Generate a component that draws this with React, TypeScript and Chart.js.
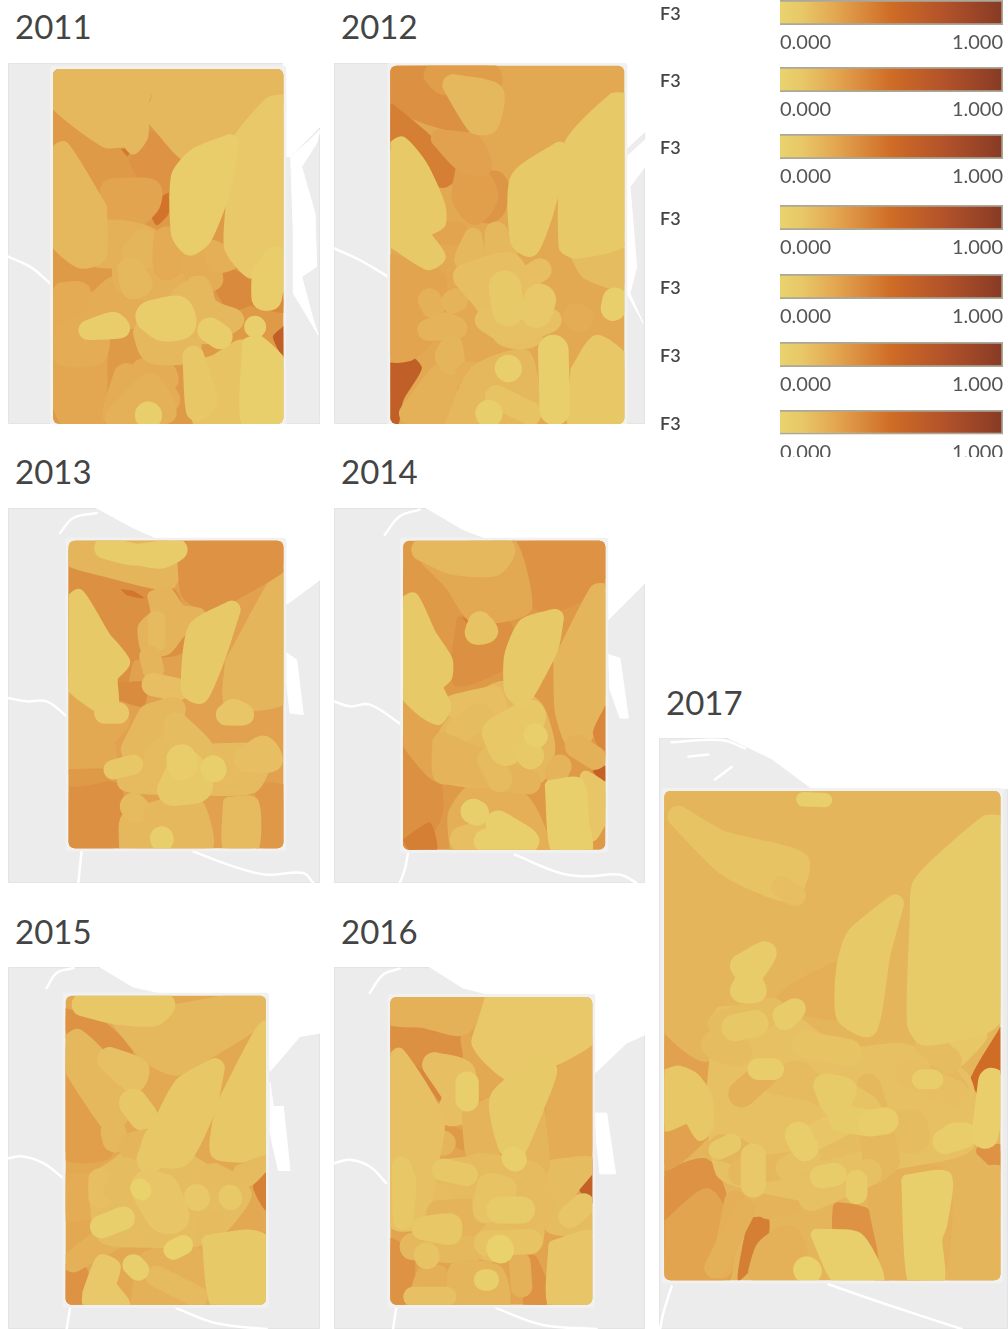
import React, { useEffect, useRef } from "react";
import { Chart, registerables } from "chart.js";

const years = ["2011", "2012", "2013", "2014", "2015", "2016", "2017"];
const legendTitle = "F3";
const legendTicks = [0, 1];
const legendTops = [0, 67, 134, 204.5, 273.5, 342, 409.5];
const legendValue = [1];
const rampStops = [0, 0.1, 0.25, 0.5, 0.75, 1];
const rampColors = ["#E9D36D", "#E8C767", "#E3A651", "#CF6C26", "#B0512A", "#873A25"];

// Map coordinates: [xMin, yMin, xMax, yMax]
const extents = [
  [24, 189, 960, 1272], [13, 189, 945, 1272], [24, 175, 960, 1300], [13, 175, 945, 1300],
  [24, 202, 960, 1287], [13, 202, 945, 1287], [12, 140, 1059, 1568],
];
const boxes = [
  [159, 207, 850, 1272], [182, 197, 883, 1272], [206, 273, 850, 1196], [220, 273, 826, 1200],
  [197, 288, 798, 1214], [182, 292, 787, 1214], [28, 268, 1036, 1450],
];
const baseValues = [0.3, 0.24, 0.27, 0.3, 0.24, 0.26, 0.18];

const water2011 = [[850, 189, 960, 189, 960, 380, 870, 470, 850, 470], [872, 470, 930, 420, 960, 390, 950, 430, 905, 500, 945, 640, 950, 800, 905, 830, 940, 960, 955, 1005, 880, 880, 880, 700]];
const water2012 = [[885, 189, 945, 189, 945, 395, 885, 450], [890, 470, 945, 420, 945, 500, 900, 560, 920, 800, 900, 880, 940, 970, 890, 880]];
const water2013 = [[290, 175, 960, 175, 960, 390, 880, 450, 850, 470, 850, 270, 480, 270, 400, 235], [860, 610, 890, 630, 910, 795, 870, 790, 860, 700]];
const water2014 = [[290, 175, 945, 175, 945, 400, 835, 510, 826, 270, 480, 270, 400, 240], [835, 615, 870, 625, 895, 805, 870, 805, 840, 720]];
const water2015 = [[300, 202, 960, 202, 960, 400, 900, 410, 810, 515, 798, 280, 480, 280, 400, 262], [810, 550, 820, 620, 850, 620, 870, 812, 835, 812, 810, 700]];
const water2016 = [[300, 202, 945, 202, 945, 405, 890, 430, 790, 525, 790, 285, 480, 285, 400, 265], [795, 640, 830, 640, 857, 822, 810, 822, 800, 730]];
const water2017 = [[220, 140, 1059, 140, 1059, 262, 470, 262, 350, 190]];
const waters = [water2011, water2012, water2013, water2014, water2015, water2016, water2017];

const roads2011 = [[24, 770, 90, 800, 150, 850]];
const roads2012 = [[13, 745, 90, 780, 175, 830]];
const roads2013 = [[24, 745, 80, 755, 140, 755, 200, 800], [180, 250, 220, 205, 290, 190], [245, 1200, 235, 1300], [580, 1205, 700, 1250, 800, 1275, 910, 1270, 940, 1300]];
const roads2014 = [[13, 755, 60, 770, 120, 765, 215, 825], [165, 255, 210, 200, 270, 180], [235, 1210, 225, 1260, 210, 1300], [555, 1215, 690, 1270, 770, 1280, 870, 1275, 920, 1300]];
const roads2015 = [[24, 775, 70, 770, 130, 790, 190, 835], [140, 265, 170, 220, 220, 205], [210, 1225, 200, 1287], [530, 1225, 650, 1270, 800, 1287]];
const roads2016 = [[13, 790, 60, 780, 120, 800, 170, 850], [120, 280, 160, 225, 210, 207], [200, 1220, 190, 1287], [500, 1225, 640, 1275, 800, 1287]];
const roads2017 = [[50, 150, 200, 145, 270, 165], [100, 185, 160, 180], [180, 240, 230, 210], [50, 1465, 25, 1530, 15, 1568], [520, 1460, 700, 1510, 920, 1568]];
const roads = [roads2011, roads2012, roads2013, roads2014, roads2015, roads2016, roads2017];

// Each entry: [value, reach, x, y, x, y, ...]
const zones2011 = [
  [.37, 2, 630, 790, 760, 830, 850, 900, 850, 930, 760, 920, 680, 930, 640, 860],
  [.33, 2, 385, 470, 455, 390, 555, 490, 525, 530, 510, 590, 450, 620, 410, 540],
  [.47, 1, 505, 580, 505, 640, 470, 675, 452, 635, 470, 600],
  [.62, 1, 850, 980, 820, 1010, 850, 1070],
  [.45, 1, 365, 448, 387, 448, 383, 468],
  [.17, 2, 159, 207, 470, 207, 450, 290, 445, 420, 410, 465, 390, 445, 310, 447, 159, 295],
  [.17, 2, 460, 207, 850, 207, 850, 280, 700, 410, 560, 490, 450, 380, 430, 350, 450, 290],
  [.26, 30, 340, 575, 445, 575, 440, 610, 395, 650, 340, 640],
  [.25, 2, 159, 880, 300, 880, 320, 1000, 300, 1272, 200, 1272, 159, 1180],
  [.23, 25, 190, 880, 240, 880, 240, 1000, 190, 1060],
  [.22, 25, 300, 900, 350, 860, 440, 880, 420, 950, 300, 940],
  [.22, 24, 200, 1000, 290, 960, 290, 1060, 190, 1065],
  [.22, 26, 430, 1110, 480, 1100, 500, 1140, 420, 1140],
  [.22, 30, 380, 1130, 500, 1200, 350, 1250],
  [.2, 22, 345, 1250, 450, 1150, 500, 1240],
  [.2, 30, 300, 700, 360, 700, 440, 720, 460, 790, 510, 830, 520, 870, 430, 860, 380, 840, 370, 770, 290, 760],
  [.18, 26, 430, 720, 440, 770, 400, 760],
  [.17, 28, 390, 810, 420, 850, 400, 860],
  [.23, 30, 500, 720, 540, 760, 500, 800],
  [.22, 22, 570, 790, 620, 780, 640, 840, 600, 850],
  [.21, 22, 640, 750, 690, 780, 650, 790],
  [.17, 24, 590, 860, 600, 860, 620, 920, 650, 940, 700, 960, 610, 1000, 540, 900],
  [.17, 30, 440, 1000, 560, 1000, 560, 1050, 460, 1050],
  [.12, 2, 560, 1090, 640, 1060, 740, 1020, 740, 1272, 590, 1272],
  [.1, 24, 580, 1070, 620, 1200, 590, 1230],
  [.17, 2, 159, 440, 185, 420, 310, 590, 325, 620, 310, 790, 240, 810, 159, 730],
  [.09, 2, 850, 280, 815, 285, 700, 410, 690, 500, 680, 760, 750, 840, 780, 810, 850, 750],
  [.05, 20, 690, 430, 590, 470, 540, 530, 540, 700, 570, 740, 610, 710, 665, 570],
  [.05, 26, 790, 820, 825, 775, 825, 780, 810, 895, 790, 895],
  [.05, 36, 455, 950, 530, 935, 540, 970, 490, 975],
  [.05, 22, 265, 990, 360, 985, 340, 965],
  [.05, 28, 630, 990, 660, 1010],
  [.03, 24, 765, 980, 766, 981],
  [.03, 2, 735, 1010, 770, 1000, 850, 1090, 850, 1272, 735, 1272],
  [.03, 30, 445, 1245, 446, 1246],
];
const zones2012 = [
  [.34, 2, 182, 197, 500, 197, 490, 250, 420, 400, 182, 310],
  [.29, 25, 315, 225, 480, 225, 480, 255, 340, 250],
  [.42, 2, 182, 310, 300, 400, 390, 530, 350, 565, 260, 500, 182, 420],
  [.32, 2, 450, 510, 510, 510, 540, 550, 520, 650, 480, 675, 400, 650],
  [.28, 26, 410, 520, 450, 540, 470, 590, 435, 640, 400, 590],
  [.27, 20, 330, 415, 430, 430, 460, 500, 400, 490],
  [.17, 24, 370, 255, 490, 280, 475, 370, 440, 370],
  [.62, 1, 182, 1090, 240, 1065, 275, 1105, 220, 1200, 205, 1272, 182, 1272],
  [.26, 2, 182, 760, 340, 810, 335, 1000, 240, 1085, 182, 1085],
  [.2, 26, 300, 900, 310, 920],
  [.19, 26, 370, 905, 380, 900],
  [.26, 26, 340, 700, 380, 700],
  [.2, 24, 240, 1240, 340, 1120, 350, 1250, 300, 1260],
  [.19, 24, 295, 990, 350, 970, 380, 985],
  [.18, 26, 365, 1040, 370, 1090, 350, 1070],
  [.21, 34, 420, 1130, 470, 1140],
  [.17, 20, 430, 710, 440, 800, 400, 780],
  [.17, 26, 500, 700, 500, 770, 530, 770],
  [.17, 2, 345, 1272, 420, 1100, 600, 1050, 620, 1272],
  [.14, 30, 410, 830, 470, 900, 530, 1000, 600, 1000, 540, 800],
  [.14, 26, 600, 830, 630, 810],
  [.13, 26, 470, 960, 540, 1000, 660, 960],
  [.12, 26, 500, 1190, 600, 1240],
  [.1, 2, 720, 1100, 800, 1000, 883, 1070, 883, 1272, 720, 1272],
  [.22, 30, 740, 950, 750, 955],
  [.08, 36, 525, 860, 535, 930],
  [.09, 36, 620, 935, 630, 900],
  [.15, 2, 720, 760, 883, 730, 883, 870, 750, 830],
  [.08, 2, 182, 430, 210, 405, 280, 480, 350, 610, 350, 680, 290, 720, 340, 790, 300, 815, 200, 760, 182, 730],
  [.08, 22, 690, 455, 570, 540, 570, 720, 600, 740, 640, 640],
  [.08, 2, 883, 275, 855, 275, 705, 420, 695, 760, 735, 780, 883, 735],
  [.03, 34, 670, 1050, 675, 1230],
  [.03, 30, 535, 1105, 536, 1106],
  [.03, 30, 477, 1240, 478, 1241],
  [.03, 28, 850, 925, 855, 900],
];
const zones2013 = [
  [.34, 2, 206, 300, 260, 370, 530, 420, 560, 600, 400, 640, 350, 760, 206, 700],
  [.36, 1, 350, 700, 440, 700, 430, 770, 340, 740],
  [.18, 2, 206, 273, 530, 273, 530, 410, 280, 370, 206, 330],
  [.46, 1, 365, 420, 400, 425, 430, 445, 380, 435],
  [.34, 2, 206, 1010, 360, 1000, 355, 1196, 206, 1196],
  [.31, 2, 850, 1000, 780, 1000, 780, 1196, 850, 1196],
  [.18, 2, 670, 640, 850, 350, 850, 760, 680, 780],
  [.33, 2, 530, 273, 850, 273, 850, 340, 700, 460, 620, 490, 540, 440],
  [.24, 2, 206, 700, 390, 800, 350, 880, 340, 960, 206, 970],
  [.3, 1, 206, 960, 330, 960, 330, 990, 206, 1010],
  [.19, 2, 450, 420, 500, 405, 560, 470, 620, 490, 550, 570, 500, 620, 430, 620, 410, 540, 450, 480],
  [.16, 20, 470, 510, 470, 580],
  [.18, 24, 450, 620, 460, 660],
  [.17, 2, 355, 1196, 360, 1100, 600, 1040, 640, 1196],
  [.16, 2, 675, 1040, 770, 1040, 770, 1196, 675, 1196],
  [.16, 2, 380, 860, 470, 850, 600, 880, 820, 900, 780, 1020, 550, 1040, 350, 1010],
  [.14, 26, 460, 705, 530, 720],
  [.17, 28, 450, 800, 520, 780, 430, 850, 400, 900],
  [.14, 28, 740, 930, 790, 895, 810, 930],
  [.16, 30, 400, 1070, 410, 1080],
  [.17, 30, 470, 1100, 580, 1100],
  [.15, 30, 530, 830, 550, 900, 600, 900],
  [.1, 22, 340, 960, 400, 945],
  [.08, 36, 520, 1020, 560, 950, 590, 1010],
  [.05, 34, 545, 930, 546, 945],
  [.03, 28, 640, 955, 642, 960],
  [.06, 24, 315, 295, 400, 315, 530, 300, 480, 325],
  [.08, 2, 206, 440, 230, 415, 320, 540, 395, 640, 350, 700, 345, 790, 290, 790, 206, 710],
  [.09, 24, 315, 790, 355, 790],
  [.08, 20, 695, 480, 590, 540, 570, 720, 600, 735, 650, 620],
  [.11, 24, 680, 795, 730, 795, 700, 780],
  [.03, 26, 485, 1165, 486, 1170],
];
const zones2014 = [
  [.33, 2, 545, 273, 826, 273, 826, 390, 680, 490, 610, 480],
  [.3, 2, 220, 360, 300, 380, 430, 540, 370, 740, 220, 740],
  [.34, 2, 380, 500, 420, 500, 540, 510, 560, 560, 530, 660, 370, 710],
  [.42, 1, 400, 505, 420, 505, 420, 530],
  [.24, 2, 270, 320, 545, 273, 610, 480, 520, 520, 420, 520, 340, 400],
  [.17, 26, 280, 300, 520, 300, 490, 345, 370, 340],
  [.34, 2, 220, 850, 300, 870, 340, 1100, 250, 1200, 220, 1200],
  [.42, 1, 220, 1170, 300, 1120, 320, 1200, 240, 1200],
  [.26, 2, 220, 730, 340, 800, 330, 1000, 220, 860],
  [.12, 26, 450, 520, 440, 550, 470, 545],
  [.18, 2, 670, 620, 800, 400, 826, 400, 826, 760, 760, 900, 720, 900, 680, 800],
  [.38, 1, 826, 770, 790, 850, 826, 920],
  [.6, 1, 826, 950, 790, 965, 826, 995],
  [.2, 26, 740, 890, 795, 925],
  [.21, 2, 360, 1200, 350, 1090, 430, 990, 600, 1040, 660, 1200],
  [.17, 2, 380, 760, 520, 690, 640, 760, 680, 900, 640, 1000, 340, 1000, 310, 880],
  [.14, 24, 490, 740, 500, 790, 370, 770],
  [.15, 30, 390, 840, 450, 800],
  [.19, 24, 340, 880, 340, 970, 380, 970, 600, 1000],
  [.16, 28, 480, 930, 510, 990],
  [.19, 26, 690, 950, 680, 970],
  [.14, 30, 400, 1170, 520, 1130],
  [.19, 22, 590, 995, 600, 990],
  [.1, 36, 505, 850, 600, 800, 530, 900],
  [.08, 30, 600, 915, 602, 918],
  [.08, 2, 220, 440, 245, 425, 300, 530, 370, 620, 370, 690, 330, 730, 355, 790, 330, 830, 280, 810, 220, 735],
  [.08, 20, 675, 505, 590, 530, 550, 620, 550, 720, 575, 745, 610, 690, 660, 590],
  [.11, 2, 760, 960, 826, 1000, 826, 1100, 780, 1180],
  [.03, 2, 650, 990, 750, 980, 780, 1130, 780, 1200, 670, 1200],
  [.03, 28, 430, 1085, 440, 1090],
  [.03, 28, 505, 1120, 540, 1160, 470, 1175, 590, 1175],
  [.03, 25, 615, 855, 620, 860],
];
const zones2015 = [
  [.33, 2, 197, 330, 300, 350, 400, 470, 197, 400],
  [.28, 2, 197, 440, 320, 640, 330, 780, 197, 780],
  [.17, 2, 330, 360, 798, 288, 798, 340, 650, 470, 520, 530, 420, 480],
  [.33, 2, 197, 1090, 260, 1100, 240, 1214, 197, 1214],
  [.46, 1, 510, 625, 505, 650, 480, 700, 455, 675],
  [.41, 1, 798, 790, 760, 860, 798, 930],
  [.32, 2, 600, 1050, 798, 1000, 798, 1150, 640, 1214],
  [.23, 26, 520, 1080, 620, 1060, 600, 1190, 440, 1140],
  [.2, 2, 390, 1214, 420, 1060, 600, 1040, 640, 1214],
  [.16, 24, 470, 1130, 590, 1190],
  [.22, 2, 197, 820, 320, 830, 300, 950, 197, 960],
  [.2, 24, 220, 1085, 290, 1030, 370, 1000],
  [.18, 26, 350, 1010, 460, 1000],
  [.17, 2, 197, 410, 225, 385, 360, 500, 400, 640, 350, 700, 320, 690, 197, 470],
  [.13, 28, 330, 480, 410, 510, 400, 540],
  [.1, 32, 400, 610, 430, 650],
  [.17, 28, 340, 695, 345, 720],
  [.15, 2, 330, 780, 440, 700, 640, 800, 760, 880, 680, 1000, 600, 1040, 300, 1030, 270, 960, 270, 830],
  [.18, 32, 400, 740, 440, 730],
  [.14, 26, 300, 840, 300, 890],
  [.15, 28, 380, 810, 350, 870],
  [.1, 30, 450, 780, 470, 720],
  [.1, 26, 250, 315, 490, 315, 460, 345, 350, 340],
  [.1, 22, 645, 505, 550, 560, 470, 720, 470, 770, 545, 770, 620, 620],
  [.1, 2, 640, 620, 798, 360, 798, 770, 640, 780],
  [.16, 2, 700, 800, 798, 770, 760, 860, 690, 860],
  [.16, 30, 640, 830, 700, 860],
  [.11, 36, 490, 870, 440, 860, 490, 950, 520, 950],
  [.09, 28, 590, 890, 592, 896],
  [.08, 26, 690, 890, 692, 895],
  [.16, 28, 620, 980, 640, 970],
  [.02, 22, 420, 865, 425, 872],
  [.03, 26, 305, 980, 370, 955],
  [.02, 22, 520, 1050, 550, 1035],
  [.03, 24, 400, 1095, 415, 1110],
  [.09, 2, 245, 1190, 300, 1060, 355, 1080, 355, 1160, 390, 1214, 250, 1214],
  [.08, 2, 605, 1010, 750, 985, 798, 1010, 798, 1214, 640, 1214],
];
const zones2016 = [
  [.34, 2, 182, 360, 400, 400, 400, 480, 330, 610, 270, 530, 182, 440],
  [.38, 1, 230, 480, 300, 530, 340, 610, 320, 590],
  [.2, 2, 182, 292, 480, 292, 420, 400, 260, 380, 182, 360],
  [.24, 2, 400, 400, 440, 480, 530, 545, 500, 600, 430, 590],
  [.22, 2, 660, 520, 787, 410, 787, 780, 660, 780],
  [.6, 1, 787, 780, 745, 860, 787, 910],
  [.33, 2, 182, 1010, 240, 1040, 260, 1130, 220, 1214, 182, 1214],
  [.33, 2, 600, 1060, 660, 1150, 660, 1214, 585, 1214],
  [.3, 1, 340, 670, 410, 700, 400, 750, 340, 710],
  [.09, 2, 470, 292, 787, 292, 787, 410, 660, 510, 530, 545, 450, 480, 420, 430, 440, 360],
  [.14, 28, 315, 495, 400, 520, 360, 640, 400, 630],
  [.19, 2, 400, 630, 500, 590, 500, 790, 420, 790],
  [.18, 28, 290, 710, 340, 730],
  [.13, 2, 182, 470, 205, 440, 340, 640, 330, 800, 300, 980, 210, 1000, 182, 980],
  [.15, 2, 640, 780, 787, 770, 740, 870, 787, 1000, 650, 1000],
  [.15, 2, 330, 780, 500, 760, 640, 800, 640, 1040, 600, 1060, 480, 1090, 300, 1000],
  [.18, 26, 610, 640, 625, 800, 590, 750],
  [.16, 30, 360, 830, 420, 870, 460, 800],
  [.19, 30, 330, 940, 400, 980, 440, 940],
  [.17, 30, 250, 1040, 380, 1050, 420, 1050],
  [.16, 34, 470, 900, 620, 950, 600, 830, 500, 830],
  [.21, 2, 230, 1214, 270, 1100, 350, 1100, 350, 1214],
  [.18, 2, 350, 1214, 360, 1090, 520, 1100, 540, 1214],
  [.2, 24, 570, 1090, 575, 1160],
  [.12, 28, 290, 1065, 292, 1070],
  [.13, 22, 250, 1190, 350, 1190],
  [.11, 2, 660, 1020, 787, 990, 787, 1214, 660, 1214],
  [.1, 25, 340, 810, 410, 825],
  [.12, 30, 480, 860, 470, 930, 520, 870],
  [.1, 26, 280, 985, 360, 975, 360, 1000],
  [.07, 30, 510, 930, 575, 930],
  [.12, 28, 600, 1025, 470, 1030],
  [.1, 22, 215, 800, 230, 850, 220, 960],
  [.08, 30, 530, 690, 520, 600, 640, 510, 610, 600, 550, 740],
  [.03, 26, 412, 550, 412, 600],
  [.03, 26, 550, 775, 556, 780],
  [.02, 30, 510, 1045, 512, 1050],
  [.03, 24, 465, 1140, 475, 1140],
  [.11, 26, 720, 950, 760, 915],
];
const zones2017 = [
  [.33, 2, 28, 1180, 160, 1150, 220, 1260, 60, 1400, 28, 1400],
  [.27, 2, 28, 840, 170, 920, 170, 1100, 28, 1190],
  [.26, 2, 28, 1320, 160, 1220, 230, 1300, 220, 1450, 28, 1450],
  [.42, 1, 280, 1300, 340, 1300, 330, 1380, 250, 1450],
  [.33, 2, 535, 1260, 640, 1270, 690, 1410, 700, 1450, 530, 1330],
  [.5, 1, 1036, 840, 1036, 950, 990, 1010, 945, 970],
  [.33, 2, 960, 1130, 1036, 1120, 1036, 1195],
  [.18, 2, 28, 268, 1036, 268, 1036, 320, 770, 490, 680, 540, 570, 640, 430, 720, 360, 680, 360, 600, 400, 560, 300, 490, 170, 430, 28, 840],
  [.18, 2, 28, 320, 28, 840, 150, 930, 230, 770, 360, 780, 360, 600, 280, 490, 140, 400],
  [.18, 2, 860, 1200, 1036, 1170, 1036, 1450, 860, 1450],
  [.21, 2, 560, 680, 570, 820, 360, 780, 430, 720],
  [.27, 2, 640, 1000, 560, 880, 420, 840, 300, 1070, 260, 1120, 640, 1040],
  [.31, 2, 260, 1040, 430, 1040, 400, 1070, 280, 1090],
  [.21, 24, 200, 1420, 240, 1260],
  [.2, 24, 180, 1420, 270, 1280],
  [.2, 30, 320, 1430, 340, 1380, 400, 1350, 420, 1420],
  [.19, 30, 340, 1270, 400, 1260, 420, 1220],
  [.22, 30, 660, 1200, 700, 1330, 720, 1440, 760, 1440],
  [.2, 2, 700, 1450, 640, 1280, 640, 1180, 880, 1180, 860, 1450],
  [.13, 2, 180, 790, 360, 780, 560, 880, 760, 880, 950, 960, 960, 1130, 700, 1190, 520, 1270, 300, 1240, 180, 1200, 150, 1000],
  [.15, 30, 200, 830, 350, 800, 180, 880, 250, 900],
  [.18, 30, 200, 1130, 250, 1140],
  [.17, 30, 260, 1190, 340, 1180, 420, 1170],
  [.16, 28, 360, 970, 430, 950, 500, 1000, 600, 1010],
  [.15, 30, 500, 1130, 650, 1100, 780, 1110, 770, 1070],
  [.17, 26, 660, 1190, 700, 1160, 640, 980],
  [.2, 30, 260, 1000, 330, 950],
  [.13, 30, 470, 1250, 530, 1220, 640, 1190],
  [.12, 30, 450, 880, 580, 900],
  [.12, 30, 540, 1040, 640, 1040, 520, 980],
  [.11, 30, 440, 1120, 560, 1070],
  [.13, 28, 400, 1180, 460, 1150],
  [.12, 24, 70, 330, 200, 390, 430, 440, 400, 510, 220, 450],
  [.1, 30, 240, 840, 300, 830],
  [.14, 24, 420, 520, 380, 500],
  [.1, 2, 28, 940, 60, 925, 120, 940, 175, 1000, 175, 1090, 145, 1120, 100, 1080, 28, 1090],
  [.1, 2, 880, 870, 1000, 850, 880, 950],
  [.17, 30, 860, 950, 880, 970, 900, 990],
  [.15, 30, 820, 880, 880, 920],
  [.14, 30, 760, 950, 900, 1000],
  [.07, 2, 1036, 320, 1000, 320, 780, 470, 762, 570, 762, 850, 800, 890, 1000, 860, 1036, 820],
  [.08, 20, 720, 540, 600, 620, 570, 700, 570, 810, 640, 840, 680, 660],
  [.06, 26, 260, 690, 330, 660, 260, 750, 300, 750],
  [.06, 24, 385, 810, 420, 795, 390, 820],
  [.05, 24, 310, 940, 355, 940],
  [.05, 22, 800, 965, 835, 965],
  [.07, 26, 510, 980, 570, 990, 540, 1030],
  [.07, 30, 560, 1060, 640, 1070],
  [.05, 30, 650, 1070, 690, 1065],
  [.05, 30, 430, 1100, 450, 1130],
  [.09, 28, 295, 1150, 295, 1220],
  [.08, 22, 190, 1135, 230, 1120],
  [.06, 26, 500, 1200, 540, 1195],
  [.06, 24, 605, 1210, 605, 1240],
  [.05, 28, 870, 1115, 900, 1100, 930, 1100],
  [.04, 30, 990, 1100, 1010, 1010, 1010, 970],
  [.03, 2, 745, 1190, 880, 1180, 880, 1310, 855, 1370, 855, 1450, 765, 1450],
  [.03, 2, 465, 1330, 620, 1330, 690, 1450, 540, 1450],
  [.02, 30, 455, 1425, 460, 1428],
  [.03, 16, 445, 288, 510, 290],
];
const zones = [zones2011, zones2012, zones2013, zones2014, zones2015, zones2016, zones2017];

const panelRects = [
  { left: 8, top: 63, width: 312, height: 361 },
  { left: 334, top: 63, width: 311, height: 361 },
  { left: 8, top: 508, width: 312, height: 375 },
  { left: 334, top: 508, width: 311, height: 375 },
  { left: 8, top: 967, width: 312, height: 362 },
  { left: 334, top: 967, width: 311, height: 362 },
  { left: 659, top: 738, width: 349, height: 591 },
];
const titleSpots = [[15, 6], [341, 6], [15, 451], [341, 451], [15, 911], [341, 911], [666, 682]];

function hexToRgb(h: string) {
  return [1, 3, 5].map((i) => parseInt(h.slice(i, i + 2), 16));
}
function colorOf(v: number) {
  let i = 0;
  while (i < rampStops.length - 2 && v > rampStops[i + 1]) i++;
  const t = (v - rampStops[i]) / (rampStops[i + 1] - rampStops[i]);
  const a = hexToRgb(rampColors[i]);
  const b = hexToRgb(rampColors[i + 1]);
  const c = a.map((p, k) => Math.round(p + (b[k] - p) * t));
  return `rgb(${c[0]},${c[1]},${c[2]})`;
}
function pairs(flat: number[]) {
  const out: { x: number; y: number }[] = [];
  for (let i = 0; i + 1 < flat.length; i += 2) out.push({ x: flat[i], y: flat[i + 1] });
  return out;
}
function closed(flat: number[]) {
  const p = pairs(flat);
  if (p.length > 2) p.push(p[0]);
  return p;
}
function rectOf(b: number[], inset = 0) {
  return [b[0] + inset, b[1] + inset, b[2] - inset, b[1] + inset, b[2] - inset, b[3] - inset, b[0] + inset, b[3] - inset];
}
// Softens a big zone's outline: its corners are drawn in, then a round stroke grows it back.
const softReach = 18;
function softened(flat: number[], box: number[]) {
  const p = pairs(flat);
  const cx = p.reduce((s, q) => s + q.x, 0) / p.length;
  const cy = p.reduce((s, q) => s + q.y, 0) / p.length;
  const out: number[] = [];
  p.forEach((q) => {
    const dx = cx - q.x;
    const dy = cy - q.y;
    const d = Math.hypot(dx, dy) || 1;
    const onX = Math.abs(q.x - box[0]) < 4 || Math.abs(q.x - box[2]) < 4;
    const onY = Math.abs(q.y - box[1]) < 4 || Math.abs(q.y - box[3]) < 4;
    const m = softReach * 1.25;
    const ux = dx / d;
    const uy = dy / d;
    out.push(onX ? q.x : q.x + ux * m, onY ? q.y : q.y + uy * m);
  });
  return out;
}

const boxClip = {
  id: "boxClip",
  beforeDatasetDraw(chart: any, args: any) {
    const ds = chart.data.datasets[args.index];
    if (!ds.boxClip) return;
    const { x, y } = chart.scales;
    const b = ds.boxClip;
    const l = x.getPixelForValue(b[0]);
    const r = x.getPixelForValue(b[2]);
    const t = y.getPixelForValue(b[1]);
    const m = y.getPixelForValue(b[3]);
    const ctx = chart.ctx;
    ctx.save();
    ctx.beginPath();
    ctx.roundRect(l, t, r - l, m - t, 6);
    ctx.clip();
  },
  afterDatasetDraw(chart: any, args: any) {
    const ds = chart.data.datasets[args.index];
    if (ds.boxClip) chart.ctx.restore();
  },
};
Chart.register(boxClip, ...registerables);

function mapDatasets(i: number) {
  const ext = extents[i];
  const box = boxes[i];
  const k = 1 / 3;
  const grow = 1.35;
  const common = { pointRadius: 0, tension: 0, clip: false as any, borderCapStyle: "round", borderJoinStyle: "round" };
  const ds: any[] = [];
  ds.push({ ...common, data: closed(rectOf(ext, 1.5)), borderColor: "#e4e4e4", backgroundColor: "#ececec", borderWidth: 1, fill: "shape" });
  waters[i].forEach((w) => ds.push({ ...common, data: closed(w), borderColor: "#fff", backgroundColor: "#fff", borderWidth: 1, fill: "shape" }));
  roads[i].forEach((w) => ds.push({ ...common, tension: 0.4, data: pairs(w), borderColor: "#fff", borderWidth: 2.5, fill: false }));
  ds.push({ ...common, data: closed(rectOf(box)), borderColor: "#f1f1f1", borderWidth: 6, fill: false });
  const baseColor = colorOf(baseValues[i]);
  ds.push({ ...common, boxClip: box, data: closed(rectOf(box, -4)), borderColor: baseColor, backgroundColor: baseColor, borderWidth: 1, fill: "shape" });
  zones[i].forEach((z: number[]) => {
    const c = colorOf(z[0]);
    let pts = z.slice(2);
    let reach = z[1] * grow;
    if (z[1] === 2) {
      pts = softened(pts, box);
      reach = softReach;
    }
    ds.push({ ...common, tension: 0.22, capBezierPoints: false, boxClip: box, data: closed(pts), borderColor: c, backgroundColor: c, borderWidth: reach * 2 * k, fill: pts.length > 4 ? "shape" : false });
  });
  return ds.reverse();
}

function MapPanel({ i }: { i: number }) {
  const ref = useRef<HTMLCanvasElement>(null);
  useEffect(() => {
    const ext = extents[i];
    const chart = new Chart(ref.current as any, {
      type: "line",
      data: { datasets: mapDatasets(i) },
      options: {
        animation: false,
        responsive: false,
        events: [],
        layout: { padding: 0 },
        plugins: { legend: { display: false }, tooltip: { enabled: false } },
        scales: {
          x: { type: "linear", display: false, min: ext[0], max: ext[2] },
          y: { type: "linear", display: false, reverse: true, min: ext[1], max: ext[3] },
        },
      },
    } as any);
    return () => chart.destroy();
  }, [i]);
  const r = panelRects[i];
  return <canvas ref={ref} width={r.width} height={r.height} style={{ position: "absolute", left: r.left, top: r.top, width: r.width, height: r.height }} />;
}

function LegendBar({ top, height }: { top: number; height: number }) {
  const ref = useRef<HTMLCanvasElement>(null);
  useEffect(() => {
    const chart = new Chart(ref.current as any, {
      type: "bar",
      data: {
        labels: [legendTitle],
        datasets: [
          {
            data: legendValue,
            barPercentage: 1,
            categoryPercentage: 1,
            borderColor: "#aaa899",
            borderWidth: 2,
            backgroundColor: (c: any) => {
              const a = c.chart.chartArea;
              if (!a) return rampColors[0];
              const g = c.chart.ctx.createLinearGradient(a.left, 0, a.right, 0);
              rampStops.forEach((s, n) => g.addColorStop(s, rampColors[n]));
              return g;
            },
          },
        ],
      },
      options: {
        indexAxis: "y",
        animation: false,
        responsive: false,
        events: [],
        layout: { padding: { top: 0, right: 5, left: 0, bottom: 0 } },
        plugins: { legend: { display: false }, tooltip: { enabled: false } },
        scales: {
          x: {
            type: "linear",
            min: legendTicks[0],
            max: legendTicks[1],
            afterBuildTicks: (s: any) => { s.ticks = legendTicks.map((v) => ({ value: v })); },
            afterFit: (s: any) => { s.height = height - 25; s.paddingLeft = 0; s.paddingRight = 0; },
            grid: { display: false, tickLength: 6 },
            border: { display: false },
            ticks: { align: "inner", maxRotation: 0, padding: 0, color: "#555", font: { family: "Lato", size: 20 }, callback: (v: any) => Number(v).toFixed(3) },
          },
          y: {
            afterFit: (s: any) => { s.width = 120; s.paddingTop = 0; s.paddingBottom = 0; },
            grid: { display: false },
            border: { display: false },
            ticks: { crossAlign: "far", padding: 0, labelOffset: 1.5, color: "#444", font: { family: "Lato", size: 18, weight: 600 } },
          },
        },
      },
    } as any);
    return () => chart.destroy();
  }, []);
  return <canvas ref={ref} width={348} height={height} style={{ position: "absolute", left: 660, top, width: 348, height }} />;
}

export default function App() {
  return (
    <div style={{ position: "absolute", left: 0, top: 0, width: 1008, height: 1329, overflow: "hidden", background: "#fff" }}>
      {years.map((y, i) => (
        <div key={y} style={{ position: "absolute", left: titleSpots[i][0], top: titleSpots[i][1], fontFamily: "Lato", fontSize: 33, lineHeight: "40px", color: "#444" }}>{y}</div>
      ))}
      {years.map((y, i) => <MapPanel key={y} i={i} />)}
      {legendTops.map((t, i) => <LegendBar key={t} top={t} height={i === 6 ? 47.5 : 58} />)}
    </div>
  );
}
